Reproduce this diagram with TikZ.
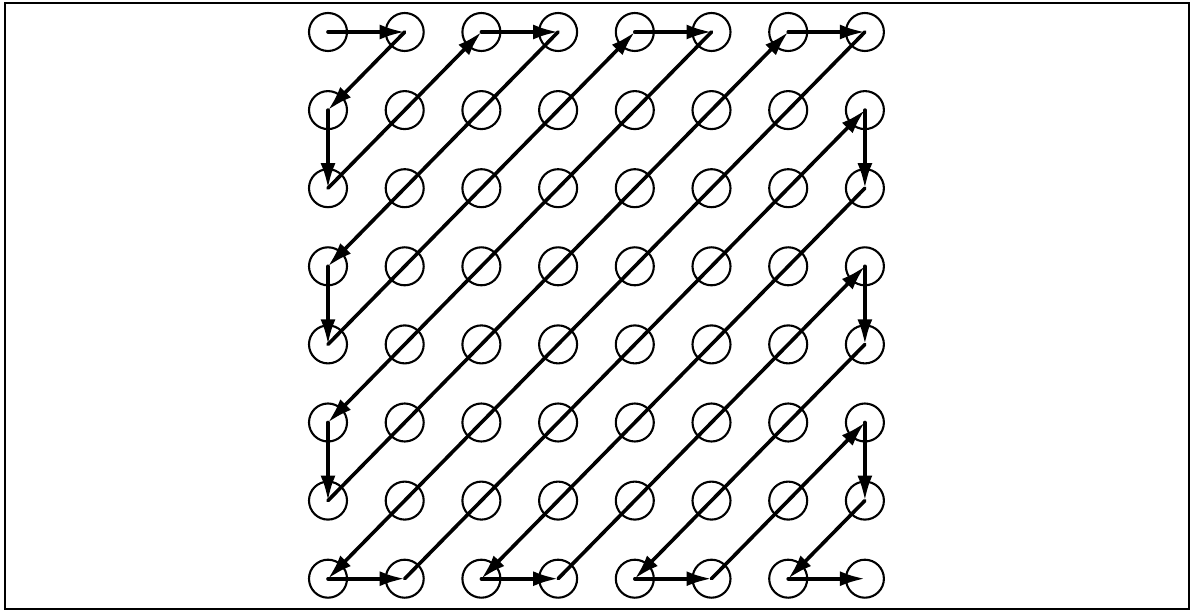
\documentclass[tikz,border=0pt]{standalone}
\usetikzlibrary{arrows.meta}
\begin{document}
\begin{tikzpicture}[x=1pt,y=-1pt,
  cell/.style={draw=black,circle,line width=2.1pt,minimum size=38pt,inner sep=0pt},
  arr/.style={line width=3.6pt,line cap=round,-{Latex[length=25pt,width=15pt]}},
  frame/.style={draw=black,line width=2.4pt}]
\useasboundingbox (0,0) rectangle (1200,612);
\draw[frame] (5,3) rectangle (1189,609);
\foreach \i in {0,...,7}{
  \foreach \j in {0,...,7}{
    \node[cell] (c-\i-\j) at ({328+76.7*\i},{32+78.1*\j}) {};
  }
}
\foreach \a/\b in {0-0/1-0,1-0/0-1,0-1/0-2,0-2/2-0,2-0/3-0,3-0/0-3,0-3/0-4,0-4/4-0,
  4-0/5-0,5-0/0-5,0-5/0-6,0-6/6-0,6-0/7-0,7-0/0-7,0-7/1-7,1-7/7-1,7-1/7-2,7-2/2-7,
  2-7/3-7,3-7/7-3,7-3/7-4,7-4/4-7,4-7/5-7,5-7/7-5,7-5/7-6,7-6/6-7,6-7/7-7}{
  \draw[arr] (c-\a.center) -- (c-\b.center);
}
\end{tikzpicture}
\end{document}
